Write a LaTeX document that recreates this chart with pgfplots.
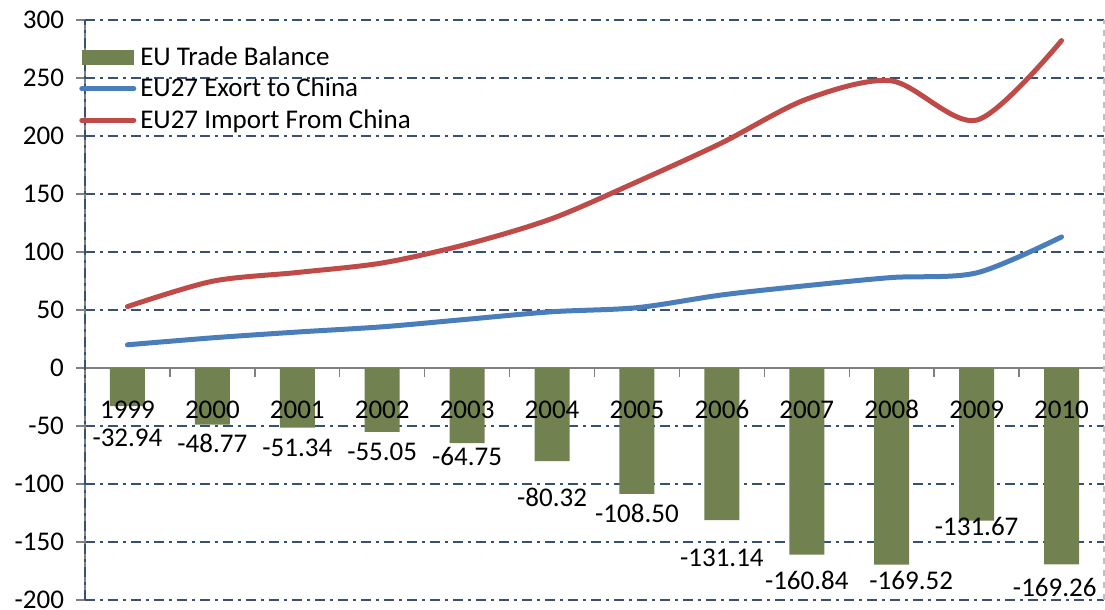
\documentclass[border=0pt]{standalone}
\usepackage{pgfplots}
\pgfplotsset{compat=1.18}
\usepackage{pgfplotstable}
\usepackage{fontspec}
\setmainfont{Carlito}
\definecolor{barol}{RGB}{114,129,80}
\definecolor{lblue}{RGB}{74,126,187}
\definecolor{lred}{RGB}{190,75,72}
\definecolor{gridc}{RGB}{55,80,115}
\newcommand{\cf}{\fontsize{13.5pt}{16pt}\selectfont}
\pgfplotstableread{
x year bal exp imp lx ly yy
0 1999 -32.94 20 52.94 0 -60.3 -36
1 2000 -48.77 26 74.77 1 -64.7 -36
2 2001 -51.34 31 82.34 2 -69.0 -36
3 2002 -55.05 35.5 90.55 3 -72.4 -36
4 2003 -64.75 42 106.75 4 -76.7 -36
5 2004 -80.32 48.5 128.82 5 -111.2 -36
6 2005 -108.50 52 160.50 6 -125.0 -36
7 2006 -131.14 63 194.14 7 -163.8 -36
8 2007 -160.84 71 231.84 8 -182.8 -36
9 2008 -169.52 78 247.52 9.23 -182.8 -36
10 2009 -131.67 82 213.67 10 -137.0 -36
11 2010 -169.26 113 282.26 10.92 -188.8 -36
}\data
\begin{document}
\begin{tikzpicture}
\begin{axis}[
  at={(0,0)}, anchor=south west,
  scale only axis, width=509.5pt, height=290pt,
  xmin=-0.5, xmax=11.5, ymin=-200, ymax=300,
  axis x line=middle, axis y line=left,
  axis line style={-, gray, line width=0.7pt},
  xtick={0.5,1.5,...,10.5}, xticklabels={},
  ytick={-200,-150,...,300},
  tick align=outside, major tick length=4.5pt,
  tick style={gray, line width=0.7pt},
  ymajorgrids,
  grid style={gridc, line width=0.6pt, dash pattern=on 5pt off 2.5pt on 1.5pt off 2.5pt},
  yticklabel style={font=\cf, xshift=-2.5pt},
  /pgf/number format/assume math mode=true,
  font=\cf,
  legend style={at={(rel axis cs:-0.006,0.962)}, anchor=north west, draw=none, fill=none, font=\cf, row sep=0.9pt, inner sep=0pt},
  legend cell align=left,
  clip=false,
]
\addplot[fill=barol, draw=none, ybar, bar width=17.5pt,
  legend image code/.code={\fill[barol] (0pt,-3.9pt) rectangle (26pt,3.9pt);}]
  table[x=x, y=bal] {\data};
\addlegendentry{EU Trade Balance}
\addplot[lblue, line width=2.5pt, smooth, tension=0.5, mark=none, line cap=round,
  legend image code/.code={\draw[lblue, line width=2.5pt, line cap=round] (0pt,0pt) -- (26pt,0pt);}]
  table[x=x, y=exp] {\data};
\addlegendentry{EU27 Exort to China}
\addplot[lred, line width=2.5pt, smooth, tension=0.5, mark=none, line cap=round,
  legend image code/.code={\draw[lred, line width=2.5pt, line cap=round] (0pt,0pt) -- (26pt,0pt);}]
  table[x=x, y=imp] {\data};
\addlegendentry{EU27 Import From China}
\addplot[draw=none, mark=none, nodes near coords, point meta=explicit symbolic,
  every node near coord/.style={anchor=center, font=\cf, inner sep=0pt}, forget plot]
  table[x=x, y=yy, meta=year] {\data};
\addplot[draw=none, mark=none, nodes near coords, point meta=explicit symbolic,
  every node near coord/.style={anchor=center, font=\cf, inner sep=0pt}, forget plot]
  table[x=lx, y=ly, meta=bal] {\data};
\draw[gridc, line width=1.3pt, dash pattern=on 5pt off 2.5pt on 1.5pt off 2.5pt] (rel axis cs:0,1) -- (rel axis cs:1,1);
\draw[gridc, line width=1.3pt, dash pattern=on 5pt off 2.5pt on 1.5pt off 2.5pt] (rel axis cs:0,0) -- (rel axis cs:1,0);
\draw[gridc, line width=0.6pt, dash pattern=on 5pt off 2.5pt on 1.5pt off 2.5pt] (rel axis cs:0,0) -- (rel axis cs:0,1);
\draw[gray!50, line width=0.6pt, dashed] (rel axis cs:1,0) -- (rel axis cs:1,1);
\end{axis}
\pgfresetboundingbox
\path[use as bounding box] (-42.5pt,-5pt) rectangle (510pt,300pt);
\end{tikzpicture}
\end{document}
